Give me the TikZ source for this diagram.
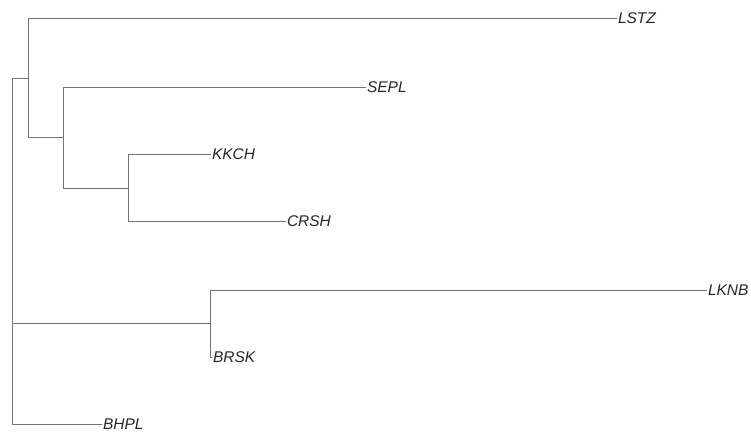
\documentclass[tikz,border=0pt]{standalone}
\usepackage{fontspec}
\setmainfont{Liberation Sans}
\begin{document}
\begin{tikzpicture}[x=1bp,y=-1bp,
  branch/.style={draw=black!55,line width=0.9bp},
  leaf/.style={anchor=west,inner sep=0.8bp,text=black!85,font=\fontsize{15.5bp}{18bp}\selectfont\itshape}]
\useasboundingbox (0,0) rectangle (751,433);
% internal nodes of the tree
\coordinate (root) at (12.5,251);
\coordinate (A) at (28,78);
\coordinate (B) at (63.5,137.5);
\coordinate (C) at (128,188);
\coordinate (D) at (210,323.5);
% leaves
\node[leaf] (LSTZ) at (617,18.5) {LSTZ};
\node[leaf] (SEPL) at (366,87) {SEPL};
\node[leaf] (KKCH) at (211,154) {KKCH};
\node[leaf] (CRSH) at (286,221.5) {CRSH};
\node[leaf] (LKNB) at (707,290) {LKNB};
\node[leaf] (BRSK) at (212,357) {BRSK};
\node[leaf] (BHPL) at (102,424) {BHPL};
% branches
\draw[branch] (root) |- (A);
\draw[branch] (root) |- (D);
\draw[branch] (root) |- (BHPL.west);
\draw[branch] (A) |- (LSTZ.west);
\draw[branch] (A) |- (B);
\draw[branch] (B) |- (SEPL.west);
\draw[branch] (B) |- (C);
\draw[branch] (C) |- (KKCH.west);
\draw[branch] (C) |- (CRSH.west);
\draw[branch] (D) |- (LKNB.west);
\draw[branch] (D) |- (BRSK.west);
\end{tikzpicture}
\end{document}
